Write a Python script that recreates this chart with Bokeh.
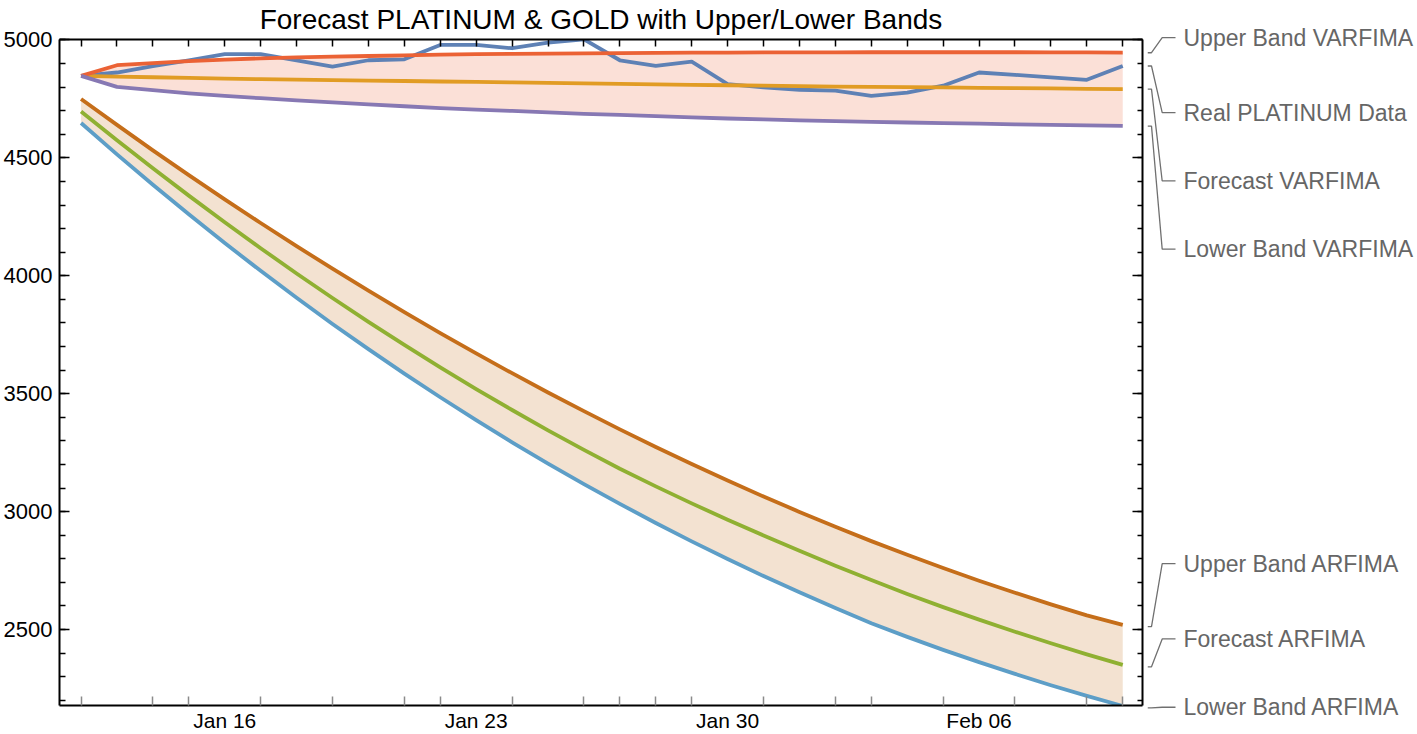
import pandas as pd
from bokeh.plotting import figure
from bokeh.layouts import row
from bokeh.models import (Range1d, LinearAxis, DatetimeAxis, FixedTicker,
                          DatetimeTickFormatter)
from bokeh.core.properties import value
from bokeh.embed import file_html
from bokeh.resources import INLINE

# ---------------- data ----------------
start_date = "2021-01-12"
end_date = "2021-02-10"
dates = pd.date_range(start_date, end_date, freq="D")

real_platinum = [4848, 4862, 4889, 4914, 4940, 4940, 4914, 4887, 4914, 4918,
                 4979, 4979, 4965, 4989, 5003, 4914, 4890, 4908, 4813, 4799,
                 4789, 4785, 4763, 4777, 4806, 4862, 4852, 4841, 4831, 4890]
forecast_varfima = [4848, 4845, 4842, 4839, 4836, 4834, 4832, 4830, 4828, 4826,
                    4824, 4822, 4820, 4818, 4816, 4814, 4812, 4810, 4808, 4806,
                    4804, 4802, 4801, 4800, 4799, 4797, 4796, 4795, 4793, 4792]
upper_varfima = [4848, 4893, 4902, 4910, 4917, 4922, 4926, 4929, 4932, 4935,
                 4938, 4940, 4941, 4942, 4943, 4944, 4945, 4946, 4946, 4947,
                 4947, 4947, 4948, 4948, 4948, 4948, 4948, 4947, 4947, 4946]
lower_varfima = [4848, 4801, 4787, 4774, 4763, 4753, 4744, 4735, 4727, 4719,
                 4711, 4705, 4699, 4693, 4687, 4682, 4677, 4672, 4667, 4663,
                 4659, 4656, 4653, 4650, 4647, 4645, 4642, 4640, 4638, 4636]
upper_arfima = [4750, 4640, 4532, 4427, 4324, 4224, 4126, 4030, 3937, 3846,
                3757, 3671, 3587, 3505, 3426, 3349, 3274, 3202, 3132, 3064,
                2999, 2936, 2875, 2817, 2761, 2707, 2656, 2607, 2560, 2520]
forecast_arfima = [4697, 4575, 4456, 4340, 4227, 4117, 4010, 3906, 3805, 3707,
                   3612, 3520, 3431, 3345, 3262, 3182, 3107, 3035, 2966, 2899,
                   2834, 2771, 2710, 2651, 2595, 2542, 2491, 2442, 2395, 2350]
lower_arfima = [4648, 4515, 4386, 4261, 4139, 4021, 3907, 3796, 3689, 3585,
                3485, 3388, 3294, 3204, 3117, 3033, 2952, 2874, 2799, 2727,
                2658, 2591, 2527, 2469, 2414, 2362, 2312, 2264, 2219, 2176]

label_dates = ["2021-01-16", "2021-01-23", "2021-01-30", "2021-02-06"]
bottom_minor_dates = ["2021-01-12", "2021-01-14", "2021-01-15", "2021-01-17",
                      "2021-01-19", "2021-01-21", "2021-01-22", "2021-01-24",
                      "2021-01-26", "2021-01-27", "2021-01-28", "2021-01-29",
                      "2021-01-31", "2021-02-02", "2021-02-03", "2021-02-05",
                      "2021-02-07", "2021-02-09", "2021-02-10"]
y_major = [2500, 3000, 3500, 4000, 4500, 5000]
y_minor = list(range(2200, 5001, 100))

title_text = "Forecast PLATINUM & GOLD with Upper/Lower Bands"
# (label text, series, value at which the label sits)
callouts = [
    ("Upper Band VARFIMA", upper_varfima, 5010),
    ("Real PLATINUM Data", real_platinum, 4693),
    ("Forecast VARFIMA", forecast_varfima, 4404),
    ("Lower Band VARFIMA", lower_varfima, 4116),
    ("Upper Band ARFIMA", upper_arfima, 2786),
    ("Forecast ARFIMA", forecast_arfima, 2468),
    ("Lower Band ARFIMA", lower_arfima, 2179),
]

# ---------------- styling / layout ----------------
FONT = "Liberation Sans"
C_REAL = "#5E81B5"
C_FVAR = "#E19C24"
C_FAR = "#8FB032"
C_UVAR = "#EB6235"
C_LVAR = "#8778B3"
C_UAR = "#C56E1A"
C_LAR = "#5D9EC7"

W, H = 1417, 734
TOP, BOTTOM, LEFT = 39, 27, 59
P1_W = 1147
RIGHT1 = 5
Y0, Y1 = 2178, 5002


def ms(d):
    return pd.Timestamp(d).value / 1e6


DAY = 86400000.0
x0 = ms(dates[0])
x_start = x0 - 0.6 * DAY
x_end = ms(dates[-1]) + 0.55 * DAY

p = figure(width=P1_W, height=H, x_axis_type="datetime",
           x_range=Range1d(x_start, x_end), y_range=Range1d(Y0, Y1),
           output_backend="svg", toolbar_location=None,
           min_border_left=LEFT, min_border_right=RIGHT1,
           min_border_top=TOP, min_border_bottom=BOTTOM,
           title=title_text)
p.frame_align = False
p.outline_line_color = None
p.xgrid.visible = False
p.ygrid.visible = False
p.background_fill_color = "white"
p.border_fill_color = "white"
p.title.align = "center"
p.title.text_font = FONT
p.title.text_font_size = "28px"
p.title.text_font_style = "normal"
p.title.text_color = "black"
p.title.standoff = 6
p.title.vertical_align = "top"

# bands
p.varea(x=dates, y1=lower_varfima, y2=upper_varfima, fill_color=C_UVAR, fill_alpha=0.2)
p.varea(x=dates, y1=lower_arfima, y2=upper_arfima, fill_color=C_UAR, fill_alpha=0.2)

LW = 3.8
for ys, c in [(real_platinum, C_REAL), (forecast_varfima, C_FVAR),
              (forecast_arfima, C_FAR), (upper_varfima, C_UVAR),
              (lower_varfima, C_LVAR), (upper_arfima, C_UAR), (lower_arfima, C_LAR)]:
    p.line(x=dates, y=ys, line_color=c, line_width=LW, line_join="round")

# axes
yt = FixedTicker(ticks=y_major, minor_ticks=y_minor)
left = p.yaxis[0]
left.ticker = yt
left.major_tick_in = 10
left.major_tick_out = 0
left.minor_tick_in = 6
left.minor_tick_out = 0
left.axis_line_width = 2
left.major_tick_line_width = 1.5
left.minor_tick_line_width = 1.5
left.major_label_text_font = FONT
left.major_label_text_font_size = "22px"
left.major_label_text_color = "black"
left.major_label_standoff = 7

bottom = p.xaxis[0]
bottom.ticker = FixedTicker(ticks=[ms(d) for d in label_dates],
                            minor_ticks=[ms(d) for d in bottom_minor_dates])
fmt = "%b %d"
bottom.formatter = DatetimeTickFormatter(milliseconds=fmt, seconds=fmt, minsec=fmt,
                                         minutes=fmt, hourmin=fmt, hours=fmt, days=fmt,
                                         months=fmt, years=fmt)
bottom.major_tick_in = 0
bottom.major_tick_out = 0
bottom.minor_tick_in = 9
bottom.minor_tick_out = 0
bottom.minor_tick_line_color = "#8a8a8a"
bottom.minor_tick_line_width = 1.5
bottom.axis_line_width = 2
bottom.major_label_text_font = FONT
bottom.major_label_text_font_size = "21px"
bottom.major_label_text_color = "black"
bottom.major_label_standoff = 3

top = DatetimeAxis(ticker=FixedTicker(ticks=[ms(d) for d in dates]),
                   major_label_text_color=None, major_label_text_font_size="0px",
                   major_label_standoff=0,
                   major_tick_in=7, major_tick_out=0, minor_tick_in=0, minor_tick_out=0,
                   axis_line_width=2, major_tick_line_width=1.5)
p.add_layout(top, "above")

right = LinearAxis(ticker=yt, major_label_text_color=None, major_label_text_font_size="0px",
                   major_label_standoff=0,
                   major_tick_in=10, major_tick_out=0, minor_tick_in=5, minor_tick_out=0,
                   axis_line_width=2, major_tick_line_width=1.5, minor_tick_line_width=1.5)
p.add_layout(right, "right")

# ---------------- callout panel on the right ----------------
# same value-per-pixel as the main frame, stretched to the full panel height
per_px = (Y1 - Y0) / (H - TOP - BOTTOM)
p2 = figure(width=W - P1_W, height=H,
            x_range=Range1d(P1_W, W),
            y_range=Range1d(Y0 - BOTTOM * per_px, Y1 + TOP * per_px),
            output_backend="svg", toolbar_location=None,
            x_axis_location=None, y_axis_location=None,
            min_border_left=0, min_border_right=0, min_border_top=0, min_border_bottom=0)
p2.frame_align = False
p2.title.visible = False
p2.outline_line_color = None
p2.xgrid.visible = False
p2.ygrid.visible = False
p2.background_fill_color = "white"
p2.border_fill_color = "white"

lead_x = [P1_W, 1151, 1161.7, 1175]
text_x = 1183
for text, series, ly in callouts:
    yend = series[-1]
    p2.line(x=lead_x, y=[yend, yend, ly, ly], line_color="#707070", line_width=1.3)
    p2.text(x=[text_x], y=[ly], text=[text], text_align="left", text_baseline="middle",
            text_font=value(FONT), text_font_size="23px", text_color="#666666")

layout = row(p, p2)
open("out.html", "w").write(file_html(layout, INLINE))
